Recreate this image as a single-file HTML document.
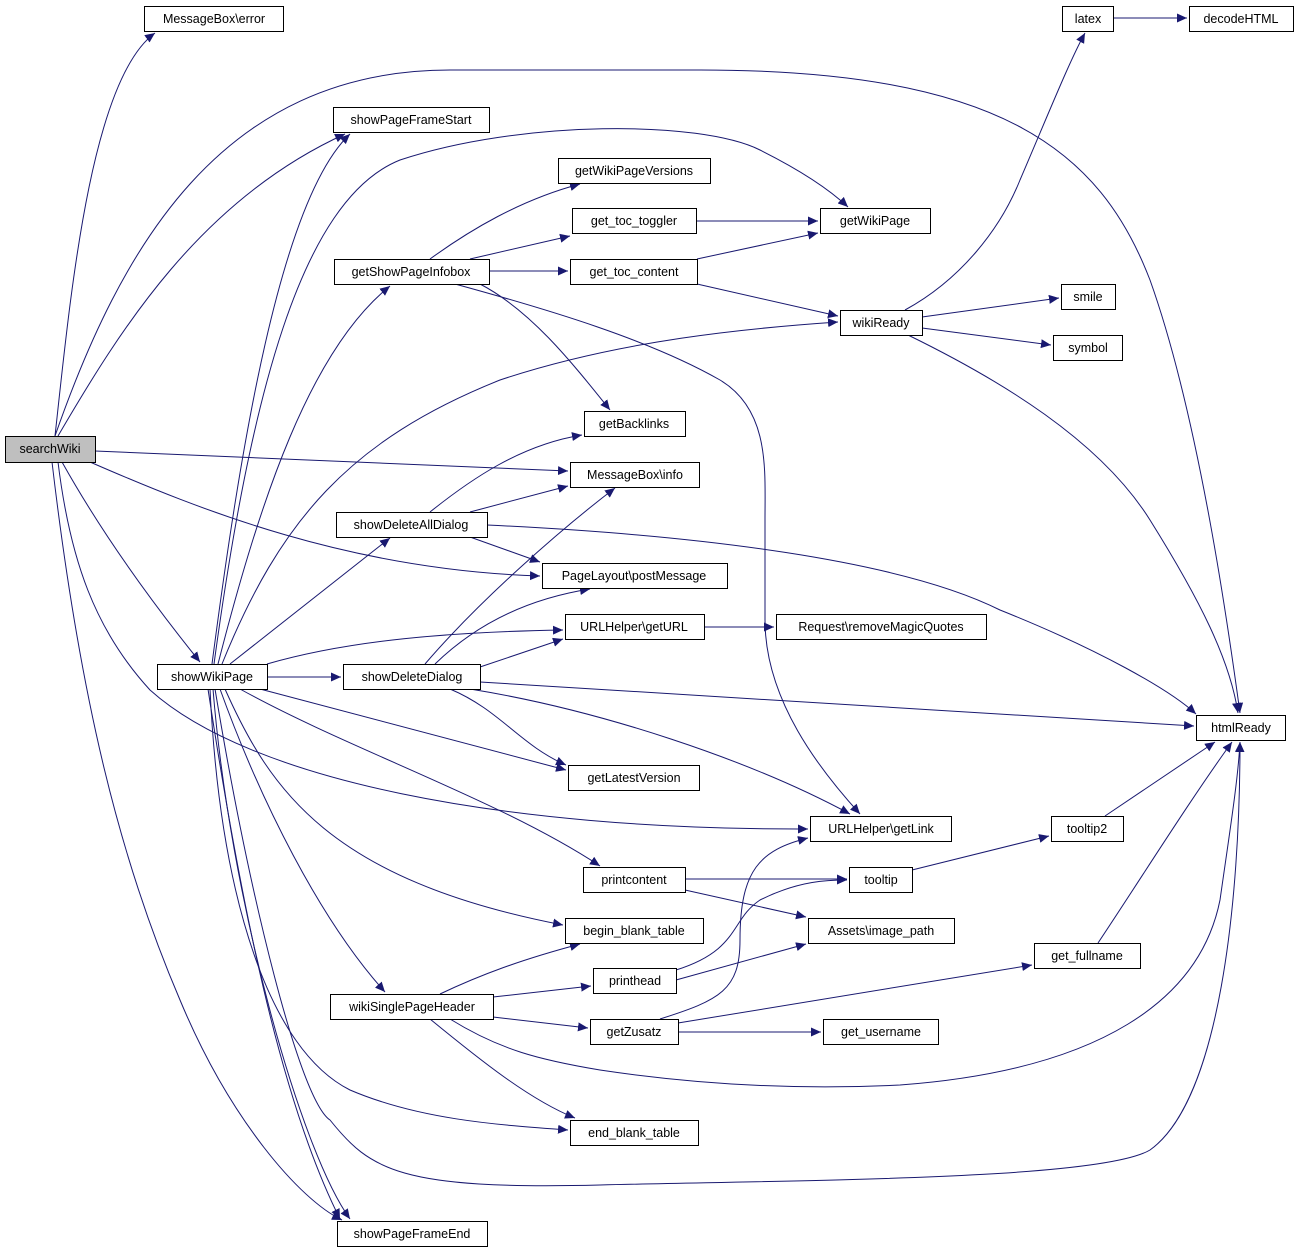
<!DOCTYPE html>
<html><head><meta charset="utf-8"><style>
html,body{margin:0;padding:0;background:#fff;}
svg{display:block;}
text{font-family:"Liberation Sans",sans-serif;font-size:12.5px;fill:#000;}
.n{fill:#fff;stroke:#000;stroke-width:1;}
.e{fill:none;stroke:#191970;stroke-width:1;marker-end:url(#a);}
</style></head><body>
<svg width="1299" height="1253" viewBox="0 0 1299 1253" xmlns="http://www.w3.org/2000/svg">
<defs><marker id="a" markerUnits="userSpaceOnUse" markerWidth="12" markerHeight="10" refX="10" refY="4.5" orient="auto"><path d="M0,0 L10,4.5 L0,9 z" fill="#191970"/></marker></defs>
<g>
<path class="e" d="M55,436 C70,300 90,80 155,33"/>
<path class="e" d="M55,436 C120,250 220,70 450,70 L700,70 C1000,70 1100,150 1150,280 C1200,420 1230,640 1240,713"/>
<path class="e" d="M58,436 C120,330 200,200 345,134"/>
<path class="e" d="M95,451 L568,471"/>
<path class="e" d="M90,462 C200,510 350,570 540,576"/>
<path class="e" d="M62,462 C100,530 150,600 200,662"/>
<path class="e" d="M58,462 C70,560 95,630 150,690 C250,780 500,830 808,829"/>
<path class="e" d="M52,462 C80,700 120,860 180,1000 C230,1120 300,1200 342,1220"/>
<path class="e" d="M212,664 C240,450 280,200 350,134"/>
<path class="e" d="M214,664 C250,400 300,200 400,160 C520,120 700,120 760,150 C800,170 830,190 848,207"/>
<path class="e" d="M218,664 C260,500 310,350 390,286"/>
<path class="e" d="M222,664 C280,520 350,440 500,380 C620,340 750,328 838,322"/>
<path class="e" d="M230,664 L390,538"/>
<path class="e" d="M267,664 C350,640 450,632 563,630"/>
<path class="e" d="M267,677 L341,677"/>
<path class="e" d="M260,689 L566,770"/>
<path class="e" d="M240,689 C350,750 500,800 600,866"/>
<path class="e" d="M225,689 C270,790 330,880 563,925"/>
<path class="e" d="M220,689 C260,800 320,920 385,992"/>
<path class="e" d="M210,689 C220,900 270,1050 350,1090 C420,1120 500,1125 568,1130"/>
<path class="e" d="M215,689 C250,900 300,1100 330,1120 C370,1170 400,1190 600,1185 C800,1180 1100,1180 1150,1150 C1220,1100 1240,900 1240,742"/>
<path class="e" d="M213,689 C230,900 300,1150 350,1219"/>
<path class="e" d="M208,689 C240,900 280,1100 340,1219"/>
<path class="e" d="M430,259 C470,230 520,200 580,184"/>
<path class="e" d="M470,259 L570,236"/>
<path class="e" d="M489,271 L568,271"/>
<path class="e" d="M480,284 C530,310 570,360 610,410"/>
<path class="e" d="M455,284 C550,310 650,340 720,380 C770,410 765,470 765,520 L765,620 C765,700 820,770 860,814"/>
<path class="e" d="M696,221 L818,221"/>
<path class="e" d="M697,259 L818,233"/>
<path class="e" d="M697,284 L838,316"/>
<path class="e" d="M905,310 C960,280 1000,230 1020,180 C1050,110 1070,60 1085,33"/>
<path class="e" d="M1113,18 L1187,18"/>
<path class="e" d="M922,317 L1059,298"/>
<path class="e" d="M922,328 L1051,345"/>
<path class="e" d="M908,335 C1000,380 1100,440 1150,520 C1200,600 1230,660 1238,713"/>
<path class="e" d="M430,512 C470,480 520,445 582,435"/>
<path class="e" d="M470,512 L568,486"/>
<path class="e" d="M470,537 L540,562"/>
<path class="e" d="M487,525 C700,535 900,560 1000,610 C1100,650 1170,690 1196,714"/>
<path class="e" d="M425,664 C480,600 560,530 615,488"/>
<path class="e" d="M435,664 C470,630 520,600 590,589"/>
<path class="e" d="M480,667 L563,639"/>
<path class="e" d="M480,682 L1194,726"/>
<path class="e" d="M450,689 C500,710 520,745 566,765"/>
<path class="e" d="M470,689 C600,710 750,760 850,814"/>
<path class="e" d="M704,627 L774,627"/>
<path class="e" d="M685,879 L847,879"/>
<path class="e" d="M685,890 L806,917"/>
<path class="e" d="M912,870 L1049,836"/>
<path class="e" d="M1105,816 L1215,742"/>
<path class="e" d="M1098,943 C1140,880 1190,800 1232,742"/>
<path class="e" d="M440,994 C480,975 520,960 580,944"/>
<path class="e" d="M493,997 L591,986"/>
<path class="e" d="M493,1017 L588,1028"/>
<path class="e" d="M430,1019 C480,1060 530,1100 575,1118"/>
<path class="e" d="M450,1019 C500,1050 540,1060 600,1070 C700,1085 800,1090 900,1085 C1100,1070 1200,1000 1220,900 C1230,830 1238,780 1240,742"/>
<path class="e" d="M676,970 C740,950 730,920 760,900 C800,880 830,880 847,880"/>
<path class="e" d="M676,980 L806,944"/>
<path class="e" d="M678,1023 L1032,965"/>
<path class="e" d="M678,1032 L821,1032"/>
<path class="e" d="M660,1019 C720,1000 740,990 740,940 C740,870 760,850 808,838"/>
</g>
<g text-anchor="middle">
<rect x="5.5" y="436.5" width="90" height="26" fill="#bfbfbf" stroke="#000"/><text x="50" y="453">searchWiki</text>
<rect class="n" x="144.5" y="6.5" width="139" height="25"/><text x="214" y="23">MessageBox\error</text>
<rect class="n" x="333.5" y="107.5" width="156" height="25"/><text x="411" y="124">showPageFrameStart</text>
<rect class="n" x="558.5" y="158.5" width="152" height="25"/><text x="634" y="175">getWikiPageVersions</text>
<rect class="n" x="572.5" y="208.5" width="124" height="25"/><text x="634" y="225">get_toc_toggler</text>
<rect class="n" x="820.5" y="208.5" width="110" height="25"/><text x="875" y="225">getWikiPage</text>
<rect class="n" x="334.5" y="259.5" width="155" height="25"/><text x="411" y="276">getShowPageInfobox</text>
<rect class="n" x="570.5" y="259.5" width="127" height="25"/><text x="634" y="276">get_toc_content</text>
<rect class="n" x="840.5" y="310.5" width="82" height="25"/><text x="881" y="327">wikiReady</text>
<rect class="n" x="1062.5" y="6.5" width="51" height="25"/><text x="1088" y="23">latex</text>
<rect class="n" x="1189.5" y="6.5" width="104" height="25"/><text x="1241" y="23">decodeHTML</text>
<rect class="n" x="1061.5" y="284.5" width="54" height="25"/><text x="1088" y="301">smile</text>
<rect class="n" x="1053.5" y="335.5" width="69" height="25"/><text x="1088" y="352">symbol</text>
<rect class="n" x="584.5" y="411.5" width="101" height="25"/><text x="634" y="428">getBacklinks</text>
<rect class="n" x="570.5" y="462.5" width="129" height="25"/><text x="635" y="479">MessageBox\info</text>
<rect class="n" x="336.5" y="512.5" width="151" height="25"/><text x="411" y="529">showDeleteAllDialog</text>
<rect class="n" x="542.5" y="563.5" width="185" height="25"/><text x="634" y="580">PageLayout\postMessage</text>
<rect class="n" x="565.5" y="614.5" width="139" height="25"/><text x="634" y="631">URLHelper\getURL</text>
<rect class="n" x="776.5" y="614.5" width="210" height="25"/><text x="881" y="631">Request\removeMagicQuotes</text>
<rect class="n" x="157.5" y="664.5" width="110" height="25"/><text x="212" y="681">showWikiPage</text>
<rect class="n" x="343.5" y="664.5" width="137" height="25"/><text x="412" y="681">showDeleteDialog</text>
<rect class="n" x="1196.5" y="715.5" width="89" height="25"/><text x="1241" y="732">htmlReady</text>
<rect class="n" x="568.5" y="765.5" width="131" height="25"/><text x="634" y="782">getLatestVersion</text>
<rect class="n" x="810.5" y="816.5" width="141" height="25"/><text x="881" y="833">URLHelper\getLink</text>
<rect class="n" x="1051.5" y="816.5" width="72" height="25"/><text x="1087" y="833">tooltip2</text>
<rect class="n" x="583.5" y="867.5" width="102" height="25"/><text x="634" y="884">printcontent</text>
<rect class="n" x="849.5" y="867.5" width="63" height="25"/><text x="881" y="884">tooltip</text>
<rect class="n" x="565.5" y="918.5" width="138" height="25"/><text x="634" y="935">begin_blank_table</text>
<rect class="n" x="808.5" y="918.5" width="146" height="25"/><text x="881" y="935">Assets\image_path</text>
<rect class="n" x="593.5" y="968.5" width="83" height="25"/><text x="635" y="985">printhead</text>
<rect class="n" x="1034.5" y="943.5" width="106" height="25"/><text x="1087" y="960">get_fullname</text>
<rect class="n" x="330.5" y="994.5" width="163" height="25"/><text x="412" y="1011">wikiSinglePageHeader</text>
<rect class="n" x="590.5" y="1019.5" width="88" height="25"/><text x="634" y="1036">getZusatz</text>
<rect class="n" x="823.5" y="1019.5" width="115" height="25"/><text x="881" y="1036">get_username</text>
<rect class="n" x="570.5" y="1120.5" width="128" height="25"/><text x="634" y="1137">end_blank_table</text>
<rect class="n" x="337.5" y="1221.5" width="150" height="25"/><text x="412" y="1238">showPageFrameEnd</text>
</g>
</svg>
</body></html>
